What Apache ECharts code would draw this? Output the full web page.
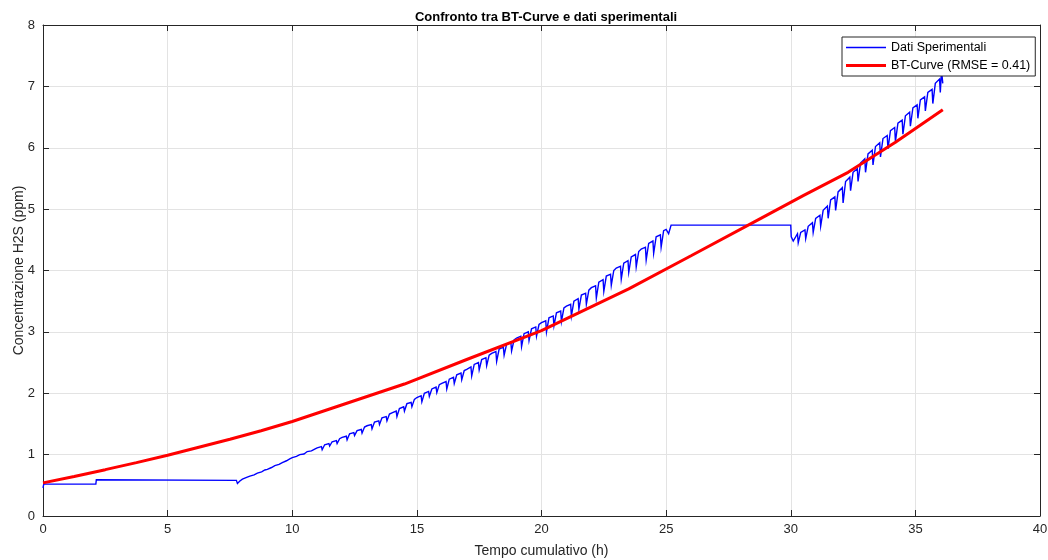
<!DOCTYPE html>
<html>
<head>
<meta charset="utf-8">
<script src="https://cdn.jsdelivr.net/npm/echarts@6/dist/echarts.min.js"></script>
<style>
  html, body { margin: 0; padding: 0; background: #ffffff; }
  #chart { width: 1048px; height: 560px; }
</style>
</head>
<body>
<div id="chart"></div>
<script>
// Axis ticks
const xTicks = [0, 5, 10, 15, 20, 25, 30, 35, 40];
const yTicks = [0, 1, 2, 3, 4, 5, 6, 7, 8];

// Measured H2S concentration [time (h), ppm], in segments
const measuredStart = [
  [0, 0.46], [0.03, 0.52], [2.12, 0.52], [2.14, 0.59], [2.2, 0.58], [7.76, 0.58], [7.8, 0.53], [7.9, 0.57]
];
const measuredRampTimes = [
  8.0, 8.17, 8.2, 8.3, 8.47, 8.5, 8.6, 8.77, 8.8, 8.9,
  9.0, 9.17, 9.2, 9.3, 9.47, 9.5, 9.6, 9.77, 9.8, 9.9,
  10.0, 10.17, 10.2, 10.3, 10.47, 10.5, 10.6, 10.77, 10.8, 10.9,
  11.0, 11.17, 11.2, 11.3, 11.47, 11.5, 11.6, 11.77, 11.8, 11.9,
  12.0, 12.17, 12.2, 12.3, 12.47, 12.5, 12.6, 12.77, 12.8, 12.9,
  13.0, 13.17, 13.2, 13.3, 13.47, 13.5, 13.6, 13.77, 13.8, 13.9,
  14.0, 14.17, 14.2, 14.3, 14.47, 14.5, 14.6, 14.77, 14.8, 14.9,
  15.0, 15.17, 15.2, 15.3, 15.47, 15.5, 15.6, 15.77, 15.8, 15.9,
  16.0, 16.17, 16.2, 16.3, 16.47, 16.5, 16.6, 16.77, 16.8, 16.9,
  17.0, 17.17, 17.2, 17.3, 17.47, 17.5, 17.6, 17.77, 17.8, 17.9,
  18.0, 18.17, 18.2, 18.3, 18.47, 18.5, 18.6, 18.77, 18.8, 18.9,
  19.0, 19.17, 19.2, 19.3, 19.47, 19.5, 19.6, 19.77, 19.8, 19.9,
  20.0, 20.17, 20.2, 20.3, 20.47, 20.5, 20.6, 20.77, 20.8, 20.9,
  21.0, 21.17, 21.2, 21.3, 21.47, 21.5, 21.6, 21.77, 21.8, 21.9,
  22.0, 22.17, 22.2, 22.3, 22.47, 22.5, 22.6, 22.77, 22.8, 22.9,
  23.0, 23.17, 23.2, 23.3, 23.47, 23.5, 23.6, 23.77, 23.8, 23.9,
  24.0, 24.17, 24.2, 24.3, 24.47, 24.5, 24.6, 24.77, 24.8, 24.9,
  25.0, 25.1, 25.2
];
const measuredRampValues = [
  0.60, 0.63, 0.61, 0.65, 0.67, 0.65, 0.70, 0.72, 0.70, 0.75,
  0.76, 0.79, 0.77, 0.82, 0.84, 0.81, 0.87, 0.90, 0.87, 0.93,
  0.95, 0.97, 0.94, 1.00, 1.01, 0.98, 1.05, 1.06, 1.03, 1.09,
  1.11, 1.13, 1.08, 1.16, 1.18, 1.14, 1.21, 1.23, 1.18, 1.26,
  1.28, 1.30, 1.24, 1.34, 1.36, 1.31, 1.39, 1.41, 1.35, 1.45,
  1.47, 1.49, 1.42, 1.53, 1.55, 1.49, 1.60, 1.62, 1.55, 1.66,
  1.68, 1.71, 1.62, 1.75, 1.78, 1.71, 1.83, 1.85, 1.78, 1.90,
  1.93, 1.96, 1.86, 2.00, 2.03, 1.95, 2.07, 2.10, 2.01, 2.14,
  2.16, 2.19, 2.07, 2.23, 2.26, 2.16, 2.30, 2.33, 2.22, 2.37,
  2.39, 2.43, 2.28, 2.47, 2.50, 2.38, 2.55, 2.58, 2.45, 2.62,
  2.65, 2.68, 2.52, 2.72, 2.75, 2.62, 2.80, 2.83, 2.69, 2.87,
  2.90, 2.93, 2.76, 2.97, 3.00, 2.86, 3.05, 3.08, 2.93, 3.12,
  3.15, 3.18, 3.00, 3.23, 3.26, 3.10, 3.31, 3.34, 3.17, 3.39,
  3.42, 3.45, 3.26, 3.50, 3.54, 3.37, 3.60, 3.63, 3.45, 3.68,
  3.72, 3.75, 3.55, 3.81, 3.85, 3.66, 3.91, 3.94, 3.76, 4.00,
  4.04, 4.07, 3.86, 4.12, 4.16, 3.97, 4.22, 4.26, 4.06, 4.31,
  4.35, 4.38, 4.17, 4.44, 4.48, 4.28, 4.55, 4.58, 4.38, 4.65,
  4.67, 4.60, 4.74
];
const measuredPlateau = [
  [25.25, 4.74], [30.0, 4.74]
];
const measuredRiseTimes = [
  30.02, 30.1, 30.27, 30.3, 30.4, 30.57, 30.6, 30.7, 30.87, 30.9,
  31.0, 31.17, 31.2, 31.3, 31.47, 31.5, 31.6, 31.77, 31.8, 31.9,
  32.07, 32.1, 32.2, 32.37, 32.4, 32.5, 32.67, 32.7, 32.8, 32.97,
  33.0, 33.1, 33.27, 33.3, 33.4, 33.57, 33.6, 33.7, 33.87, 33.9,
  34.0, 34.17, 34.2, 34.3, 34.47, 34.5, 34.6, 34.77, 34.8, 34.9,
  35.07, 35.1, 35.2, 35.37, 35.4, 35.5, 35.67, 35.7, 35.8, 35.97,
  36.0, 36.05, 36.1
];
const measuredRiseValues = [
  4.55, 4.48, 4.60, 4.45, 4.62, 4.66, 4.52, 4.72, 4.78, 4.62,
  4.85, 4.90, 4.72, 4.98, 5.05, 4.85, 5.15, 5.20, 4.98, 5.28,
  5.35, 5.10, 5.45, 5.52, 5.30, 5.60, 5.66, 5.45, 5.75, 5.82,
  5.60, 5.90, 5.96, 5.72, 6.02, 6.08, 5.85, 6.15, 6.20, 5.98,
  6.28, 6.33, 6.10, 6.40, 6.45, 6.22, 6.52, 6.58, 6.35, 6.65,
  6.70, 6.48, 6.78, 6.83, 6.60, 6.90, 6.95, 6.72, 7.05, 7.12,
  6.90, 7.25, 7.05
];

// Fitted BT-Curve
const btTimes  = [0, 1.25, 2.5, 3.75, 5, 6.25, 7.5, 8.75, 10, 14.5, 17, 20, 23.5, 26, 28.8, 30.5, 32.3, 34.2, 36.1];
const btValues = [0.54, 0.645, 0.755, 0.87, 0.99, 1.12, 1.25, 1.39, 1.54, 2.15, 2.55, 3.02, 3.70, 4.24, 4.85, 5.22, 5.60, 6.09, 6.62];

const zip = (ts, vs) => ts.map((t, i) => [t, vs[i]]);
const measured = [].concat(
  measuredStart,
  zip(measuredRampTimes, measuredRampValues),
  measuredPlateau,
  zip(measuredRiseTimes, measuredRiseValues)
);
const btCurve = zip(btTimes, btValues);

const FONT = '"Liberation Sans", Arial, Helvetica, sans-serif';
const INK = '#262626';
const BLUE = '#0000ff';
const RED = '#ff0000';

const chart = echarts.init(document.getElementById('chart'), null, { renderer: 'canvas' });

const boxAxis = {
  axisLine: { show: true, onZero: false, lineStyle: { color: INK, width: 1 } },
  axisTick: { show: true, inside: true, length: 6, lineStyle: { color: INK } },
  axisLabel: { show: false },
  splitLine: { show: false }
};

chart.setOption({
  animation: false,
  backgroundColor: '#ffffff',
  title: {
    text: 'Confronto tra BT-Curve e dati sperimentali',
    left: 541,
    textAlign: 'center',
    top: 6,
    textStyle: { fontFamily: FONT, fontSize: 13, fontWeight: 'bold', color: '#000000' }
  },
  legend: {
    left: 842,
    top: 37,
    orient: 'vertical',
    backgroundColor: '#ffffff',
    borderColor: INK,
    borderWidth: 1,
    borderRadius: 0,
    padding: [4, 5, 4, 4],
    itemGap: 5,
    itemWidth: 40,
    itemHeight: 12,
    textStyle: { fontFamily: FONT, fontSize: 12.5, color: '#000000' },
    data: [
      { name: 'Dati Sperimentali', icon: 'path://M0,0H40V1.3H0Z', itemStyle: { color: BLUE } },
      { name: 'BT-Curve (RMSE = 0.41)', icon: 'path://M0,0H40V3H0Z', itemStyle: { color: RED } }
    ]
  },
  grid: { left: 43, right: 8, top: 25, bottom: 44, containLabel: false, outerBoundsMode: 'none' },
  xAxis: [
    {
      type: 'value', min: xTicks[0], max: xTicks[xTicks.length - 1], interval: 5,
      name: 'Tempo cumulativo (h)', nameLocation: 'middle', nameGap: 28,
      nameMoveOverlap: false,
      nameTextStyle: { fontFamily: FONT, fontSize: 14, color: INK },
      axisLine: { show: true, onZero: false, lineStyle: { color: INK, width: 1 } },
      axisTick: { show: true, inside: true, length: 6, lineStyle: { color: INK } },
      axisLabel: { fontFamily: FONT, fontSize: 13, color: INK, margin: 7 },
      splitLine: { show: true, lineStyle: { color: '#e3e3e3', width: 1 } }
    },
    Object.assign({ type: 'value', position: 'top', min: xTicks[0], max: xTicks[xTicks.length - 1], interval: 5 }, boxAxis)
  ],
  yAxis: [
    {
      type: 'value', min: yTicks[0], max: yTicks[yTicks.length - 1], interval: 1,
      name: 'Concentrazione H2S (ppm)', nameLocation: 'middle', nameGap: 17,
      nameMoveOverlap: false,
      nameTextStyle: { fontFamily: FONT, fontSize: 14, color: INK },
      axisLine: { show: true, onZero: false, lineStyle: { color: INK, width: 1 } },
      axisTick: { show: true, inside: true, length: 6, lineStyle: { color: INK } },
      axisLabel: { fontFamily: FONT, fontSize: 13, color: INK, margin: 8 },
      splitLine: { show: true, lineStyle: { color: '#e3e3e3', width: 1 } }
    },
    Object.assign({ type: 'value', position: 'right', min: yTicks[0], max: yTicks[yTicks.length - 1], interval: 1 }, boxAxis)
  ],
  series: [
    {
      name: 'Dati Sperimentali',
      type: 'line',
      data: measured,
      smooth: false,
      sampling: 'none',
      showSymbol: false,
      symbol: 'none',
      lineStyle: { color: BLUE, width: 1.4, join: 'miter' },
      itemStyle: { color: BLUE },
      z: 3
    },
    {
      name: 'BT-Curve (RMSE = 0.41)',
      type: 'line',
      data: btCurve,
      smooth: false,
      showSymbol: false,
      symbol: 'none',
      lineStyle: { color: RED, width: 3 },
      itemStyle: { color: RED },
      z: 4
    }
  ]
});
</script>
</body>
</html>
